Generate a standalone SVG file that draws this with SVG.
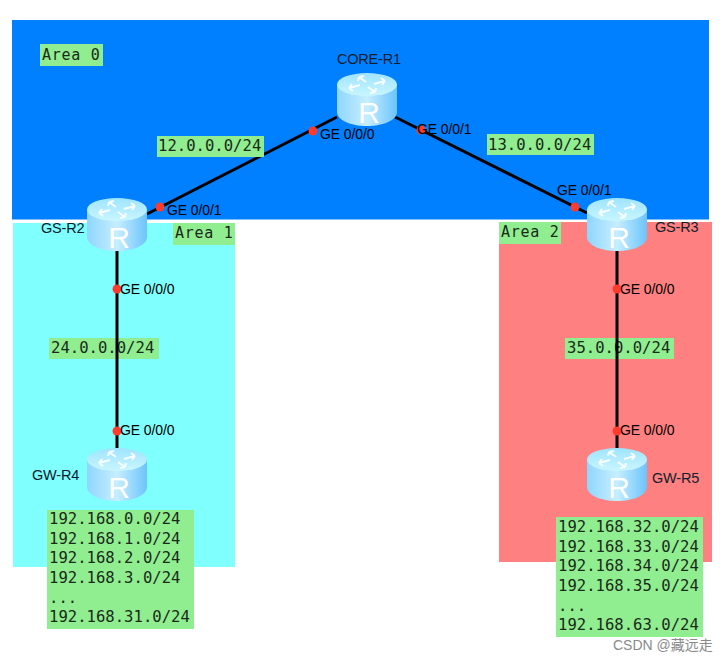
<svg xmlns="http://www.w3.org/2000/svg" width="728" height="661" viewBox="0 0 728 661">
<style>
.lbl{font-family:"Liberation Sans",Arial,sans-serif;font-size:14.500px;fill:#10202c;letter-spacing:-.2px}
.port{font-family:"Liberation Sans",Arial,sans-serif;font-size:14px;fill:#000;letter-spacing:-.1px}
.mono{font-family:"DejaVu Sans Mono",monospace;font-size:15.600px;fill:#1a2a1a}
.area{font-family:"DejaVu Sans Mono",monospace;font-size:15px;letter-spacing:.7px;fill:#1a2a1a}
.tag{fill:#90ee90}
.dot{fill:#ff3b30}
.link{stroke:#000;stroke-width:3;fill:none}
.wm{font-family:"Liberation Sans","Noto Sans CJK SC",sans-serif;font-size:14px;fill:#8a8a8a}
</style>
<defs>
<linearGradient id="body" x1="0" y1="0" x2="1" y2="0">
<stop offset="0" stop-color="#8fd6ff"/><stop offset=".5" stop-color="#c6eeff"/><stop offset="1" stop-color="#6cc4fb"/>
</linearGradient>
<linearGradient id="top" x1="0" y1="0" x2="0" y2="1">
<stop offset="0" stop-color="#9fe4ff"/><stop offset="1" stop-color="#c8f6ff"/>
</linearGradient>
<symbol id="router" width="60" height="54" viewBox="0 0 60 54" overflow="visible">
<path d="M0 11V39C0 47 13.500 53 30 53S60 47 60 39V11Z" fill="url(#body)"/>
<ellipse cx="30" cy="11.500" rx="30" ry="11.500" fill="url(#top)"/>
<g stroke="#fff" stroke-width="2" fill="none" opacity=".9">
<path d="M22 4L29 9M22 4L21 8M22 4L27 3"/>
<path d="M38 19L31 14M38 19L39 15M38 19L33 20"/>
<path d="M12 15L23 12M12 15L15 11M12 15L16 18"/>
<path d="M48 8L37 11M48 8L45 12M48 8L44 5"/>
</g>
<text x="32" y="50" text-anchor="middle" font-family="Liberation Sans,Arial,sans-serif" font-size="30" fill="#fff">R</text>
</symbol>
</defs>
<rect width="728" height="661" fill="#fff"/>
<g id="areas">
<rect x="12" y="20" width="697" height="199.500" fill="#007fff"/>
<rect x="13" y="223" width="222" height="344" fill="#80ffff"/>
<rect x="499" y="222" width="213" height="340" fill="#ff8080"/>
</g>
<g id="net-24"><rect class="tag" x="49" y="338" width="110" height="21"/><text class="mono" x="51" y="353">24.0.0.0/24</text></g>
<g id="net-35"><rect class="tag" x="565" y="338" width="109" height="21"/><text class="mono" x="567" y="353">35.0.0.0/24</text></g>
<g id="connectors">
<line class="link" x1="147" y1="214" x2="337" y2="117"/>
<line class="link" x1="395" y1="117" x2="587" y2="213"/>
<line class="link" x1="117" y1="251" x2="117" y2="448"/>
<line class="link" x1="617" y1="251" x2="617" y2="448"/>
<circle class="dot" cx="313" cy="131" r="4.500"/>
<circle class="dot" cx="421" cy="130" r="4.500"/>
<circle class="dot" cx="160" cy="207" r="4.500"/>
<circle class="dot" cx="575" cy="207" r="4.500"/>
<circle class="dot" cx="117" cy="289" r="4.500"/>
<circle class="dot" cx="117" cy="431" r="4.500"/>
<circle class="dot" cx="617" cy="289" r="4.500"/>
<circle class="dot" cx="617" cy="431" r="4.500"/>
<text class="port" x="320" y="139">GE 0/0/0</text>
<text class="port" x="417" y="134">GE 0/0/1</text>
<text class="port" x="167" y="215">GE 0/0/1</text>
<text class="port" x="557" y="195">GE 0/0/1</text>
<text class="port" x="120" y="294">GE 0/0/0</text>
<text class="port" x="120" y="435">GE 0/0/0</text>
<text class="port" x="620" y="294">GE 0/0/0</text>
<text class="port" x="620" y="435">GE 0/0/0</text>
</g>
<g id="core-r1"><use href="#router" x="337" y="73"/><text class="lbl" x="337" y="64">CORE-R1</text></g>
<g id="gs-r2"><use href="#router" x="87" y="198"/><text class="lbl" x="41" y="233">GS-R2</text></g>
<g id="gs-r3"><use href="#router" x="587" y="198"/><text class="lbl" x="655" y="232">GS-R3</text></g>
<g id="gw-r4"><use href="#router" x="87" y="448"/><text class="lbl" x="32" y="480">GW-R4</text></g>
<g id="gw-r5"><use href="#router" x="587" y="448"/><text class="lbl" x="652" y="483">GW-R5</text></g>
<g id="area-0"><rect class="tag" x="40" y="44" width="63" height="22"/><text class="area" x="42" y="60">Area 0</text></g>
<g id="area-1"><rect class="tag" x="173" y="223" width="62" height="22"/><text class="area" x="175" y="238">Area 1</text></g>
<g id="area-2"><rect class="tag" x="499" y="222" width="62" height="22"/><text class="area" x="501" y="237">Area 2</text></g>
<g id="net-12"><rect class="tag" x="157" y="136" width="107" height="21"/><text class="mono" x="158" y="151">12.0.0.0/24</text></g>
<g id="net-13"><rect class="tag" x="487" y="134" width="107" height="21"/><text class="mono" x="488" y="150">13.0.0.0/24</text></g>
<g id="nets-r4"><rect class="tag" x="47" y="510" width="147" height="119"/>
<text class="mono" x="49" y="524">192.168.0.0/24</text>
<text class="mono" x="49" y="544">192.168.1.0/24</text>
<text class="mono" x="49" y="563">192.168.2.0/24</text>
<text class="mono" x="49" y="583">192.168.3.0/24</text>
<text class="mono" x="49" y="603">...</text>
<text class="mono" x="49" y="622">192.168.31.0/24</text></g>
<g id="nets-r5"><rect class="tag" x="556" y="517" width="147" height="120"/>
<text class="mono" x="558" y="532">192.168.32.0/24</text>
<text class="mono" x="558" y="552">192.168.33.0/24</text>
<text class="mono" x="558" y="571">192.168.34.0/24</text>
<text class="mono" x="558" y="591">192.168.35.0/24</text>
<text class="mono" x="558" y="611">...</text>
<text class="mono" x="558" y="630">192.168.63.0/24</text></g>
<text class="wm" x="613" y="650">CSDN @藏远走</text>
</svg>
